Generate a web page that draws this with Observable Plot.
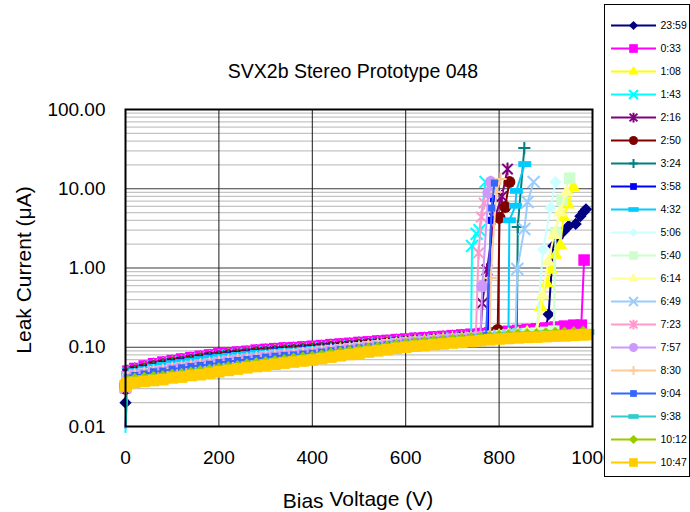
<!DOCTYPE html>
<html>
<head>
<meta charset="utf-8">
<script src="https://cdn.jsdelivr.net/npm/d3@7"></script>
<script src="https://cdn.jsdelivr.net/npm/@observablehq/plot@0.6"></script>
<style>
  html, body { margin: 0; padding: 0; background: #fff; }
  #wrap { position: relative; width: 690px; height: 512px; overflow: hidden; background: #fff;
          font-family: Arial, "Liberation Sans", sans-serif; color: #000; }
  #main { position: absolute; left: 0; top: 0; }
  #title { position: absolute; left: 0; top: 61px; width: 706px; text-align: center; font-size: 19.5px; line-height: 20px; white-space: nowrap; }
  #ylab { position: absolute; left: 23px; top: 270px; transform: translate(-50%, -50%) rotate(-90deg); font-size: 21px; line-height: 21px; white-space: nowrap; }
  #xlab { position: absolute; left: 0; top: 490px; width: 716px; text-align: center; font-size: 21px; line-height: 18px; white-space: nowrap; }
  #xlab span { position: relative; top: 2px; }
  #legend { position: absolute; left: 604px; top: 4px; width: 84px; height: 471px; border: 1px solid #000; background: #fff; }
</style>
</head>
<body>
<div id="wrap">
  <div id="main"></div>
  <div id="title">SVX2b Stereo Prototype 048</div>
  <div id="ylab">Leak Current (μA)</div>
  <div id="xlab"><span>Bias</span> Voltage (V)</div>
  <div id="legend"></div>
</div>
<script>
// ---------------- data ----------------
const names = ["23:59","0:33","1:08","1:43","2:16","2:50","3:24","3:58","4:32","5:06",
               "5:40","6:14","6:49","7:23","7:57","8:30","9:04","9:38","10:12","10:47"];

// common voltage steps of the slow baseline ramp (V)
const volts = [5,20,40,60,80,100,120,140,160,180,200,220,240,260,280,300,320,340,360,380,
               400,420,440,460,480,500,520,540,560,580,600,620,640,660,680,700,720,740,760,780,
               800,820,840,860,880,900,920,940,960,980];

const bandTop = [0.050,0.054,0.058,0.062,0.065,0.068,0.071,0.074,0.077,0.080,0.083,0.085,0.087,0.089,0.092,0.094,0.096,0.098,0.099,0.101,
                 0.103,0.105,0.108,0.110,0.112,0.115,0.117,0.120,0.122,0.125,0.127,0.130,0.132,0.135,0.137,0.140,0.143,0.146,0.149,0.152,
                 0.155,0.159,0.163,0.167,0.171,0.175,0.180,0.185,0.190,0.195];
const bandUpper = [0.046,0.050,0.053,0.057,0.060,0.063,0.065,0.068,0.071,0.074,0.076,0.078,0.080,0.082,0.085,0.086,0.088,0.090,0.091,0.093,
                   0.095,0.097,0.099,0.101,0.103,0.106,0.108,0.110,0.112,0.115,0.117,0.120,0.121,0.124,0.126,0.129,0.132,0.134,0.137,0.140,
                   0.143,0.146,0.150,0.154,0.157,0.161,0.166,0.170,0.175,0.179];
const bandMid = [0.041,0.044,0.046,0.049,0.050,0.053,0.055,0.057,0.059,0.061,0.064,0.066,0.068,0.070,0.072,0.075,0.077,0.079,0.080,0.082,
                 0.084,0.087,0.090,0.093,0.095,0.098,0.101,0.104,0.107,0.110,0.113,0.116,0.118,0.121,0.123,0.126,0.128,0.131,0.134,0.137,
                 0.140,0.143,0.146,0.149,0.151,0.154,0.158,0.160,0.164,0.167];
const bandLow = [0.038,0.040,0.041,0.042,0.043,0.045,0.046,0.048,0.050,0.052,0.054,0.056,0.058,0.061,0.063,0.065,0.067,0.069,0.072,0.074,
                 0.076,0.079,0.083,0.086,0.089,0.092,0.096,0.099,0.102,0.107,0.110,0.113,0.116,0.119,0.121,0.124,0.127,0.130,0.133,0.136,
                 0.140,0.142,0.144,0.146,0.147,0.150,0.152,0.153,0.155,0.157];
const bandBottom = [0.035,0.036,0.037,0.038,0.039,0.041,0.042,0.044,0.045,0.047,0.049,0.051,0.053,0.055,0.057,0.059,0.061,0.063,0.065,0.067,
                    0.069,0.072,0.075,0.078,0.081,0.084,0.087,0.090,0.093,0.097,0.100,0.103,0.105,0.108,0.110,0.113,0.115,0.118,0.121,0.124,
                    0.127,0.129,0.131,0.133,0.134,0.136,0.138,0.139,0.141,0.143];

// which baseline each series follows, its 0 V reading and the last ramp voltage before breakdown
const seriesBand = ["top","top","upper","upper","upper","upper","upper","upper","upper","mid",
                    "mid","mid","mid","mid","mid","mid","mid","low","low","bottom"];
const startCurrent = [0.020,0.0095,0.030,0.0085,0.031,0.030,0.032,0.031,0.030,0.032,
                      0.033,0.031,0.032,0.030,0.032,0.031,0.033,0.033,0.034,0.033];
const lastRampVolt = [900,960,880,740,760,780,820,760,820,880,900,880,820,740,760,780,760,980,980,980];

// breakdown points [V, uA]
const tail_2359 = [[906,0.26],[916,1.9],[926,2.4],[938,2.9],[949,3.4],[964,3.6],[974,4.5],[981,5.1],[986,5.5]];
const tail_0033 = [[976,0.19],[982,1.26]];
const tail_0108 = [[889,0.32],[902,0.64],[912,0.95],[921,1.46],[931,1.95],[938,4.4],[948,6.3],[959,10.5]];
const tail_0143 = [[742,1.9],[752,2.7],[758,3.0],[771,12.2]];
const tail_0216 = [[764,0.36],[774,0.95],[790,4.2],[806,8.0],[818,17.7]];
const tail_0250 = [[797,0.165],[801,4.3],[813,5.9],[822,12.2]];
const tail_0324 = [[838,0.17],[840,3.3],[854,32.6]];
const tail_0358 = [[776,0.15],[783,4.0],[788,7.5]];
const tail_0432 = [[822,4.0],[835,6.1],[837,9.4],[855,20.5]];
const tail_0506 = [[894,1.7],[910,5.7],[921,12.2]];
const tail_0540 = [[917,0.16],[921,2.8],[935,7.2],[951,13.6]];
const tail_0614 = [[893,0.45],[905,1.2],[918,2.6],[930,5.0],[944,9.0]];
const tail_0649 = [[835,0.145],[839,0.97],[854,3.1],[861,6.8],[874,12.2]];
const tail_0723 = [[750,0.135],[756,1.55],[762,4.4],[768,6.6]];
const tail_0757 = [[764,0.59],[777,8.9],[782,12.2]];
const tail_0830 = [[782,0.75],[794,9.1],[803,13.3]];
const tail_0904 = [[772,0.14],[784,5.7],[790,11.8]];
const tail_0938 = [[990,0.155]];
const tail_1012 = [];
const tail_1047 = [[988,0.145]];
const tails = [tail_2359,tail_0033,tail_0108,tail_0143,tail_0216,tail_0250,tail_0324,tail_0358,tail_0432,tail_0506,
               tail_0540,tail_0614,tail_0649,tail_0723,tail_0757,tail_0830,tail_0904,tail_0938,tail_1012,tail_1047];

// axis ticks
const xTicks = [0,200,400,600,800,1000];
const yTicks = [0.01,0.1,1,10,100];
const yMinor = [0.02,0.03,0.04,0.05,0.06,0.07,0.08,0.09,0.2,0.3,0.4,0.5,0.6,0.7,0.8,0.9,
                2,3,4,5,6,7,8,9,20,30,40,50,60,70,80,90];
const xGrid = [200,400,600,800];

// ---------------- styles ----------------
const colors = ["#000080","#FF00FF","#FFFF00","#00FFFF","#800080","#800000","#008080","#0000FF","#00CCFF","#CCFFFF",
                "#CCFFCC","#FFFF99","#99CCFF","#FF99CC","#CC99FF","#FFCC99","#3366FF","#33CCCC","#99CC00","#FFCC00"];
const markerKinds = ["diamond","square","triangle","times","asterisk","circle","plus","smallsquare","bar","diamond",
                     "square","triangle","times","asterisk","circle","plus","smallsquare","bar","diamond","square"];

const asteriskSym = {draw(ctx, size) {
  const r = Math.sqrt(size / Math.PI), d = r * 0.8;
  ctx.moveTo(-d, -d); ctx.lineTo(d, d);
  ctx.moveTo(-d, d); ctx.lineTo(d, -d);
  ctx.moveTo(0, -r); ctx.lineTo(0, r);
}};
const barSym = {draw(ctx, size) {
  const r = Math.sqrt(size / Math.PI);
  ctx.rect(-r, -r * 0.45, 2 * r, r * 0.9);
}};

function markerSpec(kind, color, legend) {
  const k = legend ? 0.75 : 1;
  switch (kind) {
    case "diamond": return {symbol: "diamond2", r: 5.5 * k, fill: color, stroke: "none"};
    case "square": return {symbol: "square", r: 6.5 * k, fill: color, stroke: "none"};
    case "triangle": return {symbol: "triangle", r: 5 * k, fill: color, stroke: "none"};
    case "times": return {symbol: "times", r: 5.5 * k, fill: "none", stroke: color, strokeWidth: 2};
    case "asterisk": return {symbol: asteriskSym, r: 6.5 * k, fill: "none", stroke: color, strokeWidth: 2};
    case "circle": return {symbol: "circle", r: 6 * k, fill: color, stroke: "none"};
    case "plus": return {symbol: "plus", r: 4 * k, fill: "none", stroke: color, strokeWidth: 2};
    case "smallsquare": return {symbol: "square", r: 4 * (legend ? 0.95 : 1), fill: color, stroke: "none"};
    case "bar": return {symbol: barSym, r: 6.5 * (legend ? 0.8 : 1), fill: color, stroke: "none"};
  }
}

const bands = {top: bandTop, upper: bandUpper, mid: bandMid, low: bandLow, bottom: bandBottom};

// build series tables
const seriesData = names.map((name, s) => {
  const band = bands[seriesBand[s]];
  const rows = [{v: 0, i: startCurrent[s]}];
  volts.forEach((v, j) => { if (v <= lastRampVolt[s]) rows.push({v, i: band[j]}); });
  tails[s].forEach(([v, i]) => rows.push({v, i}));
  return rows;
});

// ---------------- main chart ----------------
const marks = [
  Plot.ruleY(yMinor, {stroke: "#c4c4c4", strokeWidth: 1.3}),
  Plot.ruleY(yTicks, {stroke: "#3a3a3a", strokeWidth: 1}),
  Plot.ruleX(xGrid, {stroke: "#1a1a1a", strokeWidth: 1})
];
seriesData.forEach((rows, s) => {
  const c = colors[s];
  marks.push(Plot.line(rows, {x: "v", y: "i", stroke: c, strokeWidth: 2}));
  // markers outside the value range are not drawn
  const shown = rows.filter(d => d.i >= 0.01 && d.i <= 100);
  marks.push(Plot.dot(shown, {x: "v", y: "i", ...markerSpec(markerKinds[s], c, false)}));
});
marks.push(Plot.frame({stroke: "#000", strokeWidth: 2}));

const chart = Plot.plot({
  width: 690,
  height: 512,
  marginLeft: 125,
  marginRight: 98,
  marginTop: 109,
  marginBottom: 86,
  style: {fontFamily: 'Arial, "Liberation Sans", sans-serif', fontSize: "19px", background: "transparent", color: "#000", overflow: "visible"},
  x: {domain: [0, 1000], ticks: xTicks, tickSize: 0, tickPadding: 24, tickFormat: d => String(d), label: null},
  y: {type: "log", domain: [0.01, 100], ticks: yTicks, tickSize: 0, tickPadding: 20, tickFormat: d => d.toFixed(2), label: null},
  marks
});
document.getElementById("main").appendChild(chart);

// ---------------- legend ----------------
const legendMarks = [];
names.forEach((name, s) => {
  const c = colors[s];
  legendMarks.push(Plot.ruleY([name], {y: d => d, x1: 6, x2: 51, stroke: c, strokeWidth: 2}));
  legendMarks.push(Plot.dot([name], {x: 28, y: d => d, ...markerSpec(markerKinds[s], c, true)}));
});
legendMarks.push(Plot.text(names, {x: 55, y: d => d, text: d => d, textAnchor: "start", fill: "#000", fontSize: 10.5}));

const legend = Plot.plot({
  width: 84,
  height: 471,
  margin: 0,
  style: {fontFamily: 'Arial, "Liberation Sans", sans-serif', background: "transparent", overflow: "visible"},
  x: {type: "identity", axis: null},
  y: {type: "point", domain: names, range: [13, 464], padding: 0, axis: null},
  marks: legendMarks
});
document.getElementById("legend").appendChild(legend);
</script>
</body>
</html>
